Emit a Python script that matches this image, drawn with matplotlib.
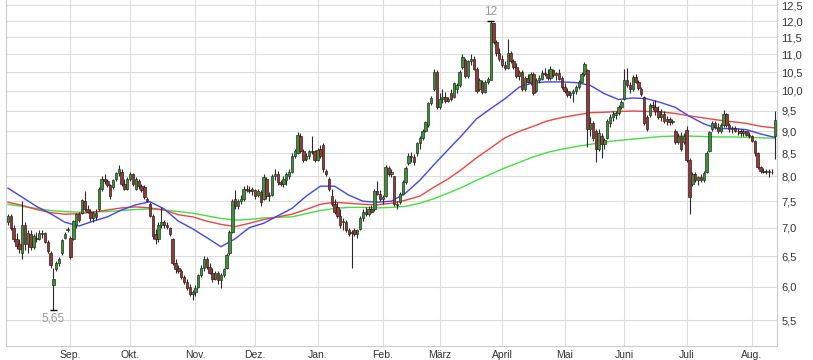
import matplotlib
matplotlib.use("Agg")
import matplotlib.pyplot as plt
from matplotlib.ticker import FixedLocator, FuncFormatter, NullLocator
import numpy as np
import pandas as pd

# trading days shown (business days)
dates = pd.bdate_range("2019-08-01", "2020-08-13")

opens = [
    7.10, 7.22, 7.00, 6.80, 6.70, 6.55, 7.05, 6.70, 6.88, 6.65,
    6.82, 6.80, 6.90, 6.90, 6.75, 6.55, 6.02, 6.28, 6.38, 6.55,
    6.82, 6.95, 6.82, 6.80, 7.05, 7.25, 7.28, 7.50, 7.35, 7.30,
    7.18, 7.28, 7.35, 7.75, 7.95, 7.90, 7.82, 7.78, 7.95, 8.08,
    8.10, 7.85, 7.75, 7.95, 8.05, 7.75, 7.90, 7.80, 7.78, 7.55,
    7.45, 7.22, 6.88, 6.80, 7.05, 7.10, 7.05, 7.00, 6.80, 6.38,
    6.30, 6.25, 6.15, 6.08, 6.00, 5.88, 5.92, 6.00, 6.18, 6.30,
    6.45, 6.32, 6.22, 6.12, 6.22, 6.10, 6.18, 6.30, 6.55, 6.92,
    7.55, 7.40, 7.50, 7.55, 7.75, 7.72, 7.70, 7.72, 7.62, 7.68,
    7.55, 7.95, 7.60, 7.62, 8.00, 8.05, 7.88, 7.85, 7.92, 8.00,
    8.10, 8.45, 8.50, 8.90, 8.55, 8.38, 8.45, 8.55, 8.55, 8.35,
    8.60, 8.68, 8.12, 7.95, 7.60, 7.45, 7.38, 7.22, 7.10, 7.10,
    6.95, 6.90, 6.95, 6.88, 6.98, 7.18, 7.30, 7.25, 7.35, 7.35,
    7.70, 7.65, 7.55, 7.60, 8.18, 8.05, 8.00, 7.45, 7.48, 7.65,
    7.88, 8.28, 8.45, 8.42, 8.50, 8.72, 8.85, 9.02, 9.15, 9.70,
    10.05, 10.50, 9.60, 9.80, 9.85, 9.75, 9.95, 9.85, 10.05, 10.15,
    10.65, 10.85, 10.40, 10.80, 10.88, 10.60, 10.05, 10.25, 9.98, 10.25,
    10.30, 11.95, 11.35, 11.05, 10.88, 10.70, 10.62, 11.05, 10.80, 10.65,
    10.40, 10.50, 10.05, 10.35, 10.25, 10.45, 10.00, 10.30, 10.32, 10.48,
    10.45, 10.35, 10.55, 10.42, 10.48, 10.35, 10.10, 10.00, 9.90, 9.95,
    10.00, 10.10, 10.25, 10.45, 10.55, 9.05, 9.20, 9.00, 8.60, 8.90,
    8.70, 8.85, 9.20, 9.35, 9.40, 9.45, 9.60, 9.80, 10.30, 10.15,
    10.05, 10.38, 10.25, 10.05, 9.85, 9.35, 9.40, 9.65, 9.58, 9.50,
    9.35, 9.42, 9.25, 9.30, 9.22, 9.00, 8.75, 8.90, 8.75, 9.03,
    8.35, 7.85, 8.05, 7.92, 7.98, 7.92, 8.10, 8.55, 9.05, 9.20,
    9.10, 9.00, 9.15, 9.42, 9.15, 9.05, 9.08, 9.02, 9.00, 8.95,
    9.00, 8.92, 8.88, 8.78, 8.50, 8.20, 8.12, 8.10, 8.12, 8.10,
    8.90,
]
highs = [
    7.25, 7.25, 7.05, 6.90, 6.80, 7.50, 7.10, 6.95, 6.95, 6.88,
    6.92, 6.95, 6.95, 6.92, 6.78, 6.58, 6.30, 6.42, 6.48, 6.80,
    6.92, 7.02, 6.85, 7.15, 7.28, 7.30, 7.55, 7.70, 7.42, 7.35,
    7.32, 7.35, 7.78, 8.00, 8.05, 7.95, 7.85, 7.95, 8.10, 8.25,
    8.15, 7.95, 7.98, 8.10, 8.08, 7.98, 7.95, 7.85, 7.82, 7.58,
    7.48, 7.25, 6.98, 7.10, 7.38, 7.15, 7.10, 7.02, 6.82, 6.45,
    6.35, 6.28, 6.18, 6.12, 6.05, 5.95, 6.02, 6.20, 6.35, 6.50,
    6.48, 6.38, 6.30, 6.25, 6.25, 6.22, 6.30, 6.55, 6.95, 7.55,
    7.72, 7.55, 7.62, 7.80, 7.82, 7.80, 7.78, 7.75, 7.75, 7.72,
    8.05, 7.98, 7.68, 8.05, 8.15, 8.12, 7.92, 8.00, 8.10, 8.15,
    8.50, 8.60, 8.98, 8.95, 8.60, 8.50, 8.58, 8.90, 8.58, 8.62,
    8.68, 8.72, 8.15, 7.98, 7.75, 7.55, 7.48, 7.35, 7.18, 7.15,
    7.00, 6.95, 7.00, 6.98, 7.22, 7.35, 7.38, 7.40, 7.42, 7.75,
    7.90, 7.72, 7.62, 8.25, 8.22, 8.15, 8.02, 7.50, 7.68, 7.92,
    8.22, 8.50, 8.52, 8.48, 8.75, 8.90, 9.05, 9.25, 9.72, 9.88,
    10.60, 10.55, 9.95, 10.05, 9.98, 9.85, 10.05, 10.25, 10.20, 10.55,
    11.00, 10.90, 10.85, 11.00, 10.95, 10.65, 10.35, 10.30, 10.30, 10.38,
    12.00, 11.95, 11.42, 11.20, 10.98, 10.80, 11.45, 11.10, 10.88, 10.75,
    10.55, 10.55, 10.40, 10.45, 10.50, 10.52, 10.35, 10.42, 10.55, 10.62,
    10.60, 10.68, 10.60, 10.52, 10.60, 10.40, 10.20, 10.08, 10.00, 10.05,
    10.15, 10.30, 10.50, 10.78, 10.60, 9.35, 9.25, 9.05, 9.05, 8.95,
    8.85, 9.30, 9.42, 9.48, 9.50, 9.65, 9.78, 10.60, 10.62, 10.25,
    10.42, 10.45, 10.30, 10.10, 9.88, 9.40, 9.70, 9.75, 9.78, 9.62,
    9.55, 9.50, 9.38, 9.35, 9.30, 9.05, 8.95, 8.98, 8.95, 9.12,
    8.40, 8.10, 8.10, 8.02, 8.05, 8.12, 8.55, 9.02, 9.25, 9.25,
    9.20, 9.20, 9.52, 9.45, 9.20, 9.12, 9.12, 9.08, 9.05, 9.05,
    9.02, 8.98, 8.92, 8.80, 8.52, 8.22, 8.18, 8.15, 8.15, 8.15,
    9.48,
]
lows = [
    7.05, 6.95, 6.75, 6.62, 6.55, 6.45, 6.60, 6.55, 6.60, 6.62,
    6.75, 6.78, 6.82, 6.72, 6.55, 6.30, 5.65, 6.25, 6.33, 6.52,
    6.80, 6.92, 6.45, 6.78, 7.00, 7.10, 7.25, 7.32, 7.28, 7.12,
    7.10, 7.15, 7.32, 7.70, 7.85, 7.78, 7.55, 7.75, 7.90, 8.00,
    7.80, 7.72, 7.72, 7.90, 7.80, 7.72, 7.75, 7.68, 7.55, 7.48,
    7.20, 6.80, 6.70, 6.75, 7.00, 7.00, 6.98, 6.85, 6.35, 6.22,
    6.22, 6.12, 6.05, 5.95, 5.85, 5.80, 5.85, 5.98, 6.15, 6.25,
    6.28, 6.20, 6.08, 6.10, 6.05, 5.98, 6.15, 6.28, 6.52, 6.90,
    7.35, 7.35, 7.45, 7.50, 7.68, 7.66, 7.62, 7.55, 7.58, 7.40,
    7.52, 7.55, 7.50, 7.60, 7.92, 7.82, 7.80, 7.78, 7.82, 7.95,
    8.08, 8.40, 8.48, 8.50, 8.30, 8.32, 8.38, 8.48, 8.30, 8.32,
    8.40, 8.10, 8.00, 7.70, 7.40, 7.25, 7.18, 7.00, 6.95, 6.92,
    6.85, 6.30, 6.85, 6.82, 6.95, 7.12, 7.22, 7.22, 7.28, 7.32,
    7.62, 7.50, 7.45, 7.58, 8.00, 7.98, 7.40, 7.35, 7.45, 7.62,
    7.85, 8.25, 8.30, 8.25, 8.45, 8.60, 8.80, 8.98, 9.10, 9.65,
    10.00, 9.55, 9.55, 9.70, 9.70, 9.72, 9.75, 9.82, 9.95, 10.10,
    10.60, 10.35, 10.35, 10.70, 10.55, 9.95, 10.00, 9.92, 9.95, 10.18,
    10.28, 11.30, 10.95, 10.82, 10.65, 10.55, 10.60, 10.75, 10.60, 10.35,
    10.30, 10.00, 10.00, 10.20, 10.15, 9.90, 9.98, 10.20, 10.28, 10.40,
    10.28, 10.30, 10.38, 10.30, 10.28, 10.05, 9.95, 9.85, 9.82, 9.72,
    9.92, 10.05, 10.20, 10.40, 8.65, 8.90, 8.78, 8.30, 8.55, 8.40,
    8.60, 8.82, 9.10, 9.25, 9.30, 9.40, 9.55, 9.78, 10.10, 9.95,
    10.00, 10.20, 10.02, 9.88, 9.15, 9.00, 9.35, 9.52, 9.40, 9.30,
    9.25, 9.20, 9.15, 9.15, 9.18, 8.70, 8.70, 8.55, 8.70, 8.30,
    7.25, 7.80, 7.88, 7.82, 7.88, 7.88, 8.08, 8.52, 9.00, 9.05,
    8.95, 8.95, 9.10, 9.10, 8.98, 8.95, 8.98, 8.92, 8.90, 8.90,
    8.88, 8.85, 8.75, 8.45, 8.15, 8.08, 8.08, 8.05, 7.98, 8.05,
    8.38,
]
closes = [
    7.22, 7.00, 6.80, 6.68, 6.62, 7.05, 6.70, 6.90, 6.65, 6.85,
    6.80, 6.90, 6.88, 6.75, 6.58, 6.35, 6.13, 6.38, 6.45, 6.78,
    6.88, 6.98, 6.48, 7.12, 7.25, 7.15, 7.52, 7.35, 7.30, 7.18,
    7.28, 7.20, 7.75, 7.95, 7.90, 7.82, 7.60, 7.92, 8.08, 8.15,
    7.85, 7.75, 7.95, 8.05, 7.85, 7.95, 7.80, 7.72, 7.58, 7.50,
    7.22, 6.85, 6.80, 7.05, 7.10, 7.05, 7.02, 6.88, 6.38, 6.28,
    6.25, 6.15, 6.08, 5.98, 5.88, 5.92, 5.98, 6.18, 6.30, 6.45,
    6.32, 6.22, 6.12, 6.22, 6.10, 6.18, 6.28, 6.52, 6.92, 7.50,
    7.40, 7.50, 7.55, 7.75, 7.72, 7.70, 7.75, 7.60, 7.70, 7.48,
    7.98, 7.60, 7.62, 8.00, 8.05, 7.88, 7.85, 7.95, 8.05, 8.10,
    8.45, 8.55, 8.92, 8.55, 8.35, 8.45, 8.55, 8.52, 8.35, 8.58,
    8.45, 8.15, 8.05, 7.75, 7.45, 7.30, 7.22, 7.05, 7.12, 6.95,
    6.88, 6.92, 6.88, 6.95, 7.18, 7.30, 7.25, 7.35, 7.30, 7.70,
    7.65, 7.55, 7.58, 8.20, 8.05, 8.10, 7.45, 7.42, 7.65, 7.88,
    8.18, 8.45, 8.42, 8.30, 8.72, 8.85, 9.02, 9.22, 9.68, 9.82,
    10.52, 9.60, 9.80, 9.85, 9.75, 9.80, 9.80, 10.20, 10.15, 10.50,
    10.92, 10.40, 10.80, 10.88, 10.60, 10.00, 10.30, 9.98, 10.25, 10.32,
    11.95, 11.35, 11.05, 10.88, 10.70, 10.62, 11.05, 10.80, 10.65, 10.40,
    10.50, 10.05, 10.35, 10.25, 10.45, 9.95, 10.30, 10.35, 10.48, 10.45,
    10.35, 10.60, 10.42, 10.48, 10.32, 10.10, 10.00, 9.90, 9.95, 10.00,
    10.10, 10.25, 10.45, 10.72, 9.05, 9.20, 8.85, 8.60, 8.95, 8.70,
    8.80, 9.25, 9.35, 9.42, 9.45, 9.60, 9.72, 10.30, 10.15, 10.05,
    10.38, 10.25, 10.08, 9.92, 9.20, 9.05, 9.65, 9.58, 9.50, 9.35,
    9.42, 9.25, 9.30, 9.22, 9.25, 8.75, 8.90, 8.60, 8.90, 8.35,
    7.58, 8.05, 7.92, 7.98, 7.92, 8.08, 8.50, 8.98, 9.20, 9.10,
    9.00, 9.15, 9.42, 9.15, 9.05, 9.08, 9.02, 9.00, 8.95, 9.00,
    8.92, 8.88, 8.78, 8.50, 8.20, 8.12, 8.10, 8.12, 8.10, 8.10,
    9.28,
]

# moving averages, read every 5 trading days
ma_days = list(range(0, 271, 5))
ma_fast = [
    7.76, 7.58, 7.40, 7.26, 7.10, 7.03, 7.12, 7.20, 7.33, 7.43,
    7.49, 7.35, 7.12, 6.98, 6.82, 6.66, 6.80, 7.00, 7.08, 7.22,
    7.36, 7.60, 7.80, 7.80, 7.62, 7.50, 7.48, 7.50, 7.66, 7.92,
    8.25, 8.58, 8.92, 9.30, 9.55, 9.80, 10.10, 10.22, 10.24, 10.24,
    10.22, 10.15, 9.93, 9.78, 9.82, 9.80, 9.70, 9.58, 9.36, 9.18,
    9.06, 9.07, 9.04, 8.94, 8.86,
]
ma_mid = [
    7.48, 7.42, 7.34, 7.28, 7.25, 7.26, 7.29, 7.33, 7.37, 7.39,
    7.37, 7.33, 7.24, 7.20, 7.12, 7.06, 7.02, 7.08, 7.15, 7.20,
    7.25, 7.34, 7.44, 7.48, 7.46, 7.44, 7.43, 7.46, 7.52, 7.60,
    7.78, 7.95, 8.16, 8.40, 8.62, 8.85, 9.00, 9.12, 9.25, 9.33,
    9.39, 9.45, 9.46, 9.48, 9.49, 9.48, 9.47, 9.43, 9.37, 9.32,
    9.27, 9.23, 9.19, 9.12, 9.08,
]
ma_slow = [
    7.44, 7.40, 7.36, 7.32, 7.30, 7.29, 7.29, 7.30, 7.32, 7.34,
    7.35, 7.33, 7.30, 7.27, 7.22, 7.17, 7.14, 7.15, 7.18, 7.19,
    7.20, 7.26, 7.32, 7.36, 7.38, 7.38, 7.37, 7.38, 7.40, 7.46,
    7.55, 7.66, 7.78, 7.92, 8.05, 8.18, 8.30, 8.42, 8.52, 8.59,
    8.65, 8.70, 8.75, 8.79, 8.82, 8.85, 8.88, 8.89, 8.89, 8.88,
    8.87, 8.87, 8.86, 8.85, 8.84,
]

month_labels = ["Sep.", "Okt.", "Nov.", "Dez.", "Jan.", "Feb.",
                "März", "April", "Mai", "Juni", "Juli", "Aug."]
price_ticks = [5.5, 6.0, 6.5, 7.0, 7.5, 8.0, 8.5, 9.0, 9.5,
               10.0, 10.5, 11.0, 11.5, 12.0, 12.5]

plt.rcParams['font.family'] = ['Liberation Sans', 'DejaVu Sans']

fig = plt.figure(figsize=(8.13, 3.6), dpi=100)
ax = fig.add_axes([6 / 813, 14 / 360, 771 / 813, 346 / 360])

x = np.arange(len(closes))
o = np.array(opens)
h = np.array(highs)
l = np.array(lows)
c = np.array(closes)
up = c >= o

# moving averages under the candles
ax.plot(ma_days, ma_slow, color='#44dd44', lw=1.0, zorder=2)
ax.plot(ma_days, ma_mid, color='#ee4444', lw=1.0, zorder=2)
ax.plot(ma_days, ma_fast, color='#4444ee', lw=1.0, zorder=2)

# candles
ax.vlines(x, l, h, color='#2a2a2a', lw=0.8, zorder=3)
ax.bar(x[up], (c - o)[up], bottom=o[up], width=0.85, color='#3f8f3f',
       edgecolor='#1c3a1c', lw=0.5, zorder=4)
ax.bar(x[~up], (o - c)[~up], bottom=c[~up], width=0.85, color='#8e3b3b',
       edgecolor='#3a1c1c', lw=0.5, zorder=4)

# max / min markers
imax = int(np.argmax(h))
imin = int(np.argmin(l))
ax.hlines([h[imax]], imax - 1.3, imax + 1.3, color='black', lw=1, zorder=5)
ax.hlines([l[imin]], imin - 1.3, imin + 1.3, color='black', lw=1, zorder=5)
ax.annotate(f"{h[imax]:g}".replace('.', ','), (imax, h[imax]),
            xytext=(0, 2), textcoords='offset points', ha='center',
            va='bottom', color='#999999', fontsize=8.5)
ax.annotate(f"{l[imin]:g}".replace('.', ','), (imin, l[imin]),
            xytext=(0, -2), textcoords='offset points', ha='center',
            va='top', color='#999999', fontsize=8.5)

ax.set_yscale('log')
ax.set_ylim(5.14, 12.68)
ax.set_xlim(-0.7, 270.8)

ax.yaxis.set_major_locator(FixedLocator(price_ticks))
ax.yaxis.set_minor_locator(NullLocator())
ax.yaxis.set_major_formatter(FuncFormatter(lambda v, p: f"{v:.1f}".replace('.', ',')))
ax.yaxis.tick_right()
ax.tick_params(axis='y', length=0, pad=3, labelsize=8, labelcolor='#333333')

month = dates.month
month_pos = [i for i in range(1, len(dates)) if month[i] != month[i - 1]]
ax.set_xticks(month_pos)
ax.set_xticklabels(month_labels)
ax.tick_params(axis='x', length=0, pad=3, labelsize=7.5, labelcolor='#333333')

ax.grid(True, color='#dddddd', lw=0.8)
ax.set_axisbelow(True)
ax.spines['top'].set_visible(False)
for s in ['left', 'right', 'bottom']:
    ax.spines[s].set_color('#cccccc')
    ax.spines[s].set_linewidth(0.8)

fig.savefig("out.png", dpi=100)
